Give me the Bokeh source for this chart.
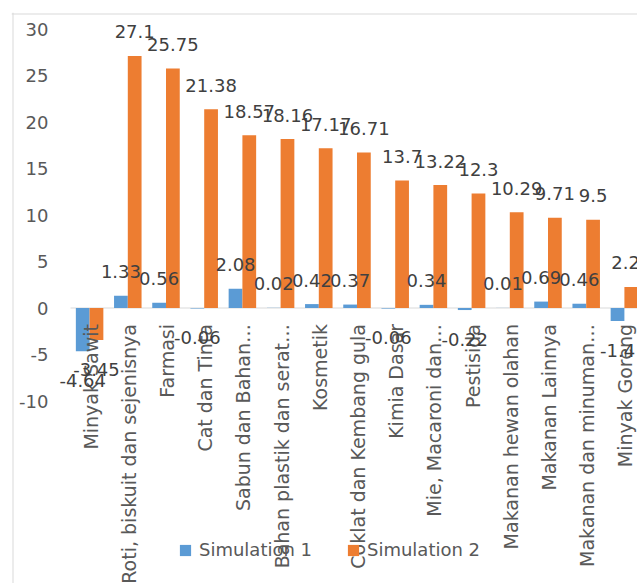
import numpy as np
from bokeh.plotting import figure
from bokeh.models import ColumnDataSource, Span, Legend, LegendItem, Range1d
from bokeh.core.properties import value
from bokeh.embed import file_html
from bokeh.resources import INLINE

categories = [
    "Minyak Sawit",
    "Roti, biskuit dan sejenisnya",
    "Farmasi",
    "Cat dan Tinta",
    "Sabun dan Bahan…",
    "Bahan plastik dan serat…",
    "Kosmetik",
    "Coklat dan Kembang gula",
    "Kimia Dasar",
    "Mie, Macaroni dan…",
    "Pestisida",
    "Makanan hewan olahan",
    "Makanan Lainnya",
    "Makanan dan minuman…",
    "Minyak Goreng",
]
sim1 = [-4.64, 1.33, 0.56, -0.06, 2.08, 0.02, 0.42, 0.37, -0.06, 0.34, -0.22, 0.01, 0.69, 0.46, -1.4]
sim2 = [-3.45, 27.1, 25.75, 21.38, 18.57, 18.16, 17.17, 16.71, 13.7, 13.22, 12.3, 10.29, 9.71, 9.5, 2.26]
series_names = ["Simulation 1", "Simulation 2"]
y_ticks = [-10, -5, 0, 5, 10, 15, 20, 25, 30]

FONT = "DejaVu Sans"
FS = "18px"
BLUE = "#5B9BD5"
ORANGE = "#ED7D31"
GRAY_TXT = "#595959"
LABEL_TXT = "#404040"
BORDER = "#d9d9d9"

# ---- layout (pixels) ----
W, H = 637, 583
FRAME_L, FRAME_T = 11, 12          # frame covers the chart area
PLOT_L = 70                         # left edge of the plot area (category -0.5)
ZERO_Y = 307.5                      # pixel row of value 0
PX_X = 38.2                         # pixels per category
PX_Y = 9.3                          # pixels per unit

def xdat(px):
    return -0.5 + (px - PLOT_L) / PX_X

def ydat(py):
    return (ZERO_Y - py) / PX_Y

idx = np.arange(len(categories), dtype=float)
BW = 0.36

def fmt(v):
    return f"{v:g}"

src = ColumnDataSource(dict(
    x1=idx - BW / 2, x2=idx + BW / 2, xc=idx,
    s1=sim1, s2=sim2,
    t1=[fmt(v) for v in sim1], t2=[fmt(v) for v in sim2],
    o1=[-24 if v >= 0 else 29 for v in sim1],
    o2=[-24 if v >= 0 else 29 for v in sim2],
    zero=[0.0] * len(categories),
    cat=categories,
))

ysrc = ColumnDataSource(dict(y=y_ticks, t=[str(t) for t in y_ticks]))

p = figure(width=W, height=H, output_backend="svg", toolbar_location=None,
           x_range=Range1d(xdat(FRAME_L), xdat(W)), y_range=Range1d(ydat(H), ydat(FRAME_T)),
           x_axis_location=None, y_axis_location=None,
           min_border_left=FRAME_L, min_border_right=0, min_border_top=FRAME_T, min_border_bottom=0)
p.outline_line_color = None
p.grid.visible = False

# chart-area border (left and top edges visible in the crop)
p.add_layout(Span(location=xdat(12.5), dimension="height", line_color=BORDER, line_width=1))
p.add_layout(Span(location=ydat(13.5), dimension="width", line_color=BORDER, line_width=1))

# horizontal category axis line at zero
p.segment(x0=-0.5, y0=0, x1=len(categories) - 0.5, y1=0, line_color=BORDER, line_width=1)

# value-axis tick labels
p.text(x=xdat(48), y="y", text="t", source=ysrc, text_align="right", text_baseline="middle",
       text_font=value(FONT), text_font_size=FS, text_color=GRAY_TXT)

b1 = p.vbar(x="x1", top="s1", bottom=0, width=BW, source=src, fill_color=BLUE, line_color=None)
b2 = p.vbar(x="x2", top="s2", bottom=0, width=BW, source=src, fill_color=ORANGE, line_color=None)

# category labels hanging from the zero line
p.text(x="xc", y="zero", text="cat", source=src, angle=np.pi / 2,
       text_align="right", text_baseline="middle", y_offset=16, x_offset=1,
       text_font=value(FONT), text_font_size="19px", text_color=GRAY_TXT)

# data labels
p.text(x="x1", y="s1", text="t1", source=src, text_align="center", text_baseline="middle",
       y_offset="o1", text_font=value(FONT), text_font_size=FS, text_color=LABEL_TXT)
p.text(x="x2", y="s2", text="t2", source=src, text_align="center", text_baseline="middle",
       y_offset="o2", text_font=value(FONT), text_font_size=FS, text_color=LABEL_TXT)

def mk_legend(item, loc):
    return Legend(items=[item], location=loc, orientation="horizontal",
                  padding=0, margin=0, border_line_color=None, background_fill_alpha=0,
                  glyph_width=14, glyph_height=14, label_standoff=7,
                  label_text_font=FONT, label_text_font_size=FS, label_text_color=GRAY_TXT)

p.add_layout(mk_legend(LegendItem(label=series_names[0], renderers=[b1]), (167, 23)))
p.add_layout(mk_legend(LegendItem(label=series_names[1], renderers=[b2]), (335, 23)))

open("out.html", "w").write(file_html(p, INLINE))
